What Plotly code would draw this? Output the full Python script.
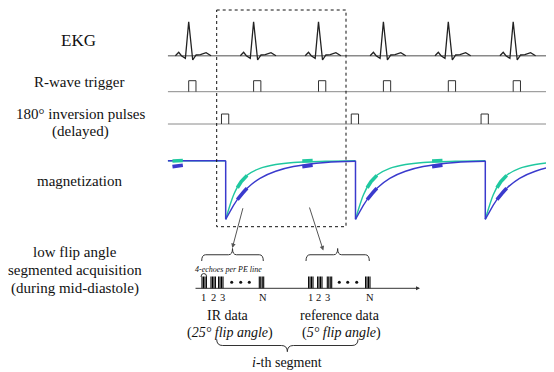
import numpy as np
import plotly.graph_objects as go

# ---------------- data ----------------
RR_MS = 1000
beat_times_ms = [0, 1000, 2000, 3000, 4000, 5000]      # R-peaks
inversion_beats = [0, 2, 4]                             # beats followed by a 180° pulse
trigger_width_ms = 112
inversion_delay_ms = 505
inversion_width_ms = 112
drop_delay_ms = 570
trace_start_ms = -320

# EKG complex: offset from R peak (ms) and deflection (diagram units, negative = up)
ecg_t_ms = [-205, -154, -112, -51, 0, 62, 114, 180, 268, 345]
ecg_amp = [0, -3.4, 0, 2.6, -34, 4.3, -0.7, -1.0, -3.0, 0]

# recovery after inversion: time since inversion (ms) and remaining fraction
recovery_t_ms = [0, 66, 123, 220, 339, 528, 770, 1043, 1540, 2000]
recovery_fast = [1, 0.76, 0.58, 0.38, 0.24, 0.13, 0.065, 0.03, 0.01, 0.0]
recovery_slow = [1, 0.87, 0.76, 0.60, 0.46, 0.30, 0.18, 0.10, 0.03, 0.01]

ir_window_ms = [180, 330]
ref_window_ms = [1180, 1340]

echoes_per_line = 4
line_labels = ["1", "2", "3", "N"]

# ---------------- layout helpers ----------------
W, H = 554, 372
PAGE_OFF = 8          # default body margin of the page
PX_PER_MS = 0.0649
X0_PX = 188.7


def X(px):
    return (px - X0_PX) / PX_PER_MS


FONT = "Liberation Serif, Times New Roman, serif"
GREEN = "rgb(32,200,160)"
BLUE = "rgb(58,58,205)"
GRAY = "#8a8a8a"
DARK = "#222222"

ECG_Y = 55.7
TRIG_Y = 91.7
INV_Y = 124.0
MAG_TOP = 160.7
MAG_BOT = 219.3
end_ms = X(W)

fig = go.Figure()

# EKG baseline and complexes
fig.add_trace(go.Scatter(x=[trace_start_ms, end_ms], y=[ECG_Y, ECG_Y], mode="lines",
                         line=dict(color=GRAY, width=1.4), hoverinfo="skip"))
ex, ey = [], []
for b in beat_times_ms:
    ex += [b + t for t in ecg_t_ms] + [None]
    ey += [ECG_Y + a for a in ecg_amp] + [None]
fig.add_trace(go.Scatter(x=ex, y=ey, mode="lines", line=dict(color=DARK, width=1.3),
                         hoverinfo="skip"))

# trigger row
fig.add_trace(go.Scatter(x=[trace_start_ms, end_ms], y=[TRIG_Y, TRIG_Y], mode="lines",
                         line=dict(color=GRAY, width=1), hoverinfo="skip"))
tx, ty = [], []
for b in beat_times_ms:
    tx += [b, b, b + trigger_width_ms, b + trigger_width_ms, None]
    ty += [TRIG_Y, TRIG_Y - 11, TRIG_Y - 11, TRIG_Y, None]
fig.add_trace(go.Scatter(x=tx, y=ty, mode="lines", line=dict(color="#333", width=1),
                         hoverinfo="skip"))

# inversion row
fig.add_trace(go.Scatter(x=[trace_start_ms, end_ms], y=[INV_Y, INV_Y], mode="lines",
                         line=dict(color=GRAY, width=1), hoverinfo="skip"))
ix, iy = [], []
for k in inversion_beats:
    s = beat_times_ms[k] + inversion_delay_ms
    ix += [s, s, s + inversion_width_ms, s + inversion_width_ms, None]
    iy += [INV_Y, INV_Y - 10, INV_Y - 10, INV_Y, None]
fig.add_trace(go.Scatter(x=ix, y=iy, mode="lines", line=dict(color="#333", width=1),
                         hoverinfo="skip"))

# magnetization
drops = [beat_times_ms[k] + drop_delay_ms for k in inversion_beats]


def mag_y(frac):
    return MAG_TOP + np.asarray(frac) * (MAG_BOT - MAG_TOP)


for rec, col in [(recovery_fast, GREEN), (recovery_slow, BLUE)]:
    fig.add_trace(go.Scatter(x=[trace_start_ms, drops[0]], y=[MAG_TOP, MAG_TOP], mode="lines",
                             line=dict(color=col, width=1.4), hoverinfo="skip"))
    cx, cy = [], []
    for d in drops:
        cx += [d + t for t in recovery_t_ms] + [None]
        cy += list(mag_y(rec)) + [None]
    fig.add_trace(go.Scatter(x=cx, y=cy, mode="lines",
                             line=dict(color=col, width=1.4, shape="spline", smoothing=0.9),
                             hoverinfo="skip"))

# vertical drops
vx, vy = [], []
for i, d in enumerate(drops):
    start = MAG_TOP if i == 0 else float(mag_y(recovery_fast[-1]))
    vx += [d, d, None]
    vy += [start, MAG_BOT, None]
fig.add_trace(go.Scatter(x=vx, y=vy, mode="lines", line=dict(color=BLUE, width=1.5),
                         hoverinfo="skip"))

# acquisition windows (thick parts)
for rec, col, off in [(recovery_fast, GREEN, -1.2), (recovery_slow, BLUE, 1.2)]:
    bx, by = [], []
    windows = [(drops[0] - 2 * RR_MS, ref_window_ms, off)]
    for d in drops:
        windows += [(d, ir_window_ms, 0.0), (d, ref_window_ms, off)]
    for d, win, o in windows:
        ts = np.linspace(win[0], win[1], 6)
        fr = np.interp(ts, recovery_t_ms, rec)
        bx += list(d + ts) + [None]
        by += list(mag_y(fr) + o) + [None]
    fig.add_trace(go.Scatter(x=bx, y=by, mode="lines", line=dict(color=col, width=3.6),
                             hoverinfo="skip"))

# echo trains
ir_centers_px = [204.2, 213.2, 220.8, 261.5]
ref_centers_px = [310.8, 319.8, 329.5, 367.8]
echo_offsets_px = [-2.2, -0.75, 0.75, 2.2]
bx, by = [], []
for c in ir_centers_px + ref_centers_px:
    for o in echo_offsets_px[:echoes_per_line]:
        bx += [X(c + o), X(c + o), None]
        by += [288.6, 276.5, None]
fig.add_trace(go.Scatter(x=bx, y=by, mode="lines", line=dict(color="#000", width=1.1),
                         hoverinfo="skip"))
dots_px = [231.7, 240.7, 249.3, 339.3, 347.7, 356.7]
fig.add_trace(go.Scatter(x=[X(p) for p in dots_px], y=[282.3] * 6, mode="markers",
                         marker=dict(color="#111", size=3), hoverinfo="skip"))

annotations = []


def txt(px, py, s, size=14):
    annotations.append(dict(x=X(px), y=py, xref="x", yref="y", text=s, showarrow=False,
                            xanchor="center", yanchor="middle",
                            font=dict(family=FONT, size=size, color="#111")))


# left labels
txt(78, 40, "EKG", 17)
txt(78.5, 82, "R-wave trigger", 15)
txt(80, 114, "180° inversion pulses", 15)
txt(80, 131, "(delayed)", 15)
txt(79, 181, "magnetization", 15)
txt(75, 252, "low flip angle", 15)
txt(75, 270, "segmented acquisition", 15)
txt(74.5, 288, "(during mid-diastole)", 15)

# line numbers
for lab, px in zip(line_labels, [203.0, 213.3, 222.7, 263.3]):
    txt(px, 297.3, lab, 10.5)
for lab, px in zip(line_labels, [310.0, 318.5, 327.0, 370.0]):
    txt(px, 297.3, lab, 10.5)

txt(228.3, 315.7, "IR data")
txt(230, 332.7, "(<i>25° flip angle</i>)")
txt(340, 315.7, "reference data")
txt(341.7, 332.7, "(<i>5° flip angle</i>)")
txt(287.3, 362, "<i>i</i>-th segment")
txt(228.5, 269.3, "<i>4-echoes per PE line</i>", 8)

# arrows
for (x0, y0, x1, y1) in [(243.3, 206.7, 232.3, 248.0), (309.0, 206.0, 323.3, 250.5)]:
    annotations.append(dict(x=X(x1), y=y1, ax=X(x0), ay=y0, xref="x", yref="y",
                            axref="x", ayref="y", text="", showarrow=True,
                            arrowhead=2, arrowsize=0.9, arrowwidth=1, arrowcolor="#555",
                            standoff=0))
# time axis arrow
annotations.append(dict(x=X(420), y=288.3, ax=X(194), ay=288.3, xref="x", yref="y",
                        axref="x", ayref="y", text="", showarrow=True,
                        arrowhead=2, arrowsize=0.8, arrowwidth=1, arrowcolor="#333",
                        standoff=0))

shapes = []
# dotted box
shapes.append(dict(type="rect", xref="x", yref="y", x0=X(216.7), x1=X(346), y0=10, y1=226.7,
                   line=dict(color="#111", width=1, dash="dot")))


def brace(x1, x2, y_end, y_tip, r=4):
    ym = (y_end + y_tip) / 2
    m = (x1 + x2) / 2
    p = (f"M {X(x1)},{y_end} Q {X(x1)},{ym} {X(x1 + r)},{ym} L {X(m - r)},{ym} "
         f"Q {X(m)},{ym} {X(m)},{y_tip} Q {X(m)},{ym} {X(m + r)},{ym} "
         f"L {X(x2 - r)},{ym} Q {X(x2)},{ym} {X(x2)},{y_end}")
    return dict(type="path", xref="x", yref="y", path=p, line=dict(color="#333", width=1))


shapes.append(brace(201.7, 263.3, 261, 248.5))
shapes.append(brace(306.0, 369.3, 261, 248.5))
shapes.append(brace(216.7, 358.0, 339.3, 351.7, 6))
shapes.append(dict(type="path", xref="x", yref="y",
                   path=f"M {X(201)},277 Q {X(201)},273.5 {X(203.8)},273.5 Q {X(206.7)},273.5 {X(206.7)},277",
                   line=dict(color="#333", width=1)))

# the page keeps its default 8px body margin, so the plot area covers page
# pixels PAGE_OFF..W and PAGE_OFF..H
fig.update_layout(
    width=W - PAGE_OFF, height=H - PAGE_OFF, margin=dict(l=0, r=0, t=0, b=0),
    paper_bgcolor="white", plot_bgcolor="white", showlegend=False,
    xaxis=dict(range=[X(PAGE_OFF), X(W)], visible=False, fixedrange=True),
    yaxis=dict(range=[H, PAGE_OFF], visible=False, fixedrange=True),
    annotations=annotations, shapes=shapes,
)

fig.write_html("out.html")
